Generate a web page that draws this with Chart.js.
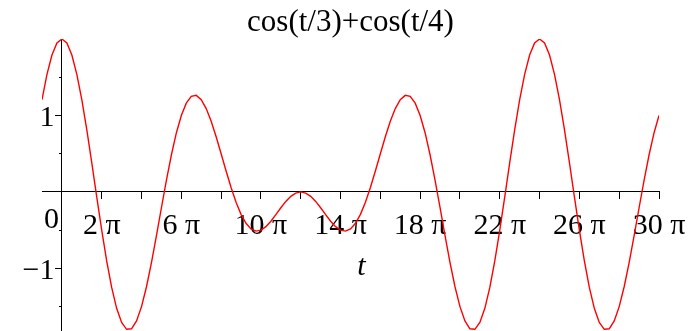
<!DOCTYPE html>
<html>
<head>
<meta charset="utf-8">
<title>cos(t/3)+cos(t/4)</title>
<script src="https://cdn.jsdelivr.net/npm/chart.js@4.4.1/dist/chart.umd.min.js"></script>
<style>
  html, body { margin: 0; padding: 0; background: #fff; }
  canvas { display: block; }
</style>
</head>
<body>
<canvas id="plot" width="691" height="331"></canvas>
<script>
// t runs from -pi to 30 pi, sampled every quarter pi (t given in units of pi)
const tStartPi = -1;
const tStepPi = 0.25;
const values = [
  1.207, 1.538, 1.79, 1.947,
  2, 1.947, 1.79, 1.538, 1.207, 0.815, 0.383, -0.064,
  -0.5, -0.902, -1.249, -1.522, -1.707, -1.797, -1.79, -1.688,
  -1.5, -1.24, -0.924, -0.572, -0.207, 0.151, 0.483, 0.771,
  1, 1.161, 1.249, 1.263, 1.207, 1.09, 0.924, 0.722,
  0.5, 0.274, 0.058, -0.135, -0.293, -0.41, -0.483, -0.512,
  -0.5, -0.454, -0.383, -0.297, -0.207, -0.124, -0.058, -0.015,
  0, -0.015, -0.058, -0.124, -0.207, -0.297, -0.383, -0.454,
  -0.5, -0.512, -0.483, -0.41, -0.293, -0.135, 0.058, 0.274,
  0.5, 0.722, 0.924, 1.09, 1.207, 1.263, 1.249, 1.161,
  1, 0.771, 0.483, 0.151, -0.207, -0.572, -0.924, -1.24,
  -1.5, -1.688, -1.79, -1.797, -1.707, -1.522, -1.249, -0.902,
  -0.5, -0.064, 0.383, 0.815, 1.207, 1.538, 1.79, 1.947,
  2, 1.947, 1.79, 1.538, 1.207, 0.815, 0.383, -0.064,
  -0.5, -0.902, -1.249, -1.522, -1.707, -1.797, -1.79, -1.688,
  -1.5, -1.24, -0.924, -0.572, -0.207, 0.151, 0.483, 0.771,
  1
];

// axis ticks (x in units of pi)
const xTicks = [0, 2, 4, 6, 8, 10, 12, 14, 16, 18, 20, 22, 24, 26, 28, 30];
const xLabelled = [2, 6, 10, 14, 18, 22, 26, 30];
const yTicks = [-1, 1];
const yTickLabels = ["\u22121 ", "1 "];
const yMinorTicks = [-1.5, -0.5, 0.5, 1.5];

const serif = '"Liberation Serif", "Times New Roman", serif';

const points = values.map((v, i) => ({ x: tStartPi + i * tStepPi, y: v }));

// extra axis text: the lone "0" and the variable name
const axisText = {
  id: "axisText",
  afterDraw(chart) {
    const ctx = chart.ctx;
    const xs = chart.scales.x, ys = chart.scales.y;
    const ax = xs.getPixelForValue(0), ay = ys.getPixelForValue(0);
    ctx.save();
    ctx.fillStyle = "#000";
    ctx.textAlign = "center";
    ctx.textBaseline = "middle";
    ctx.font = "30px " + serif;
    ctx.fillText("0", ax - 10.5, ay + 28);
    ctx.font = "italic 30px " + serif;
    ctx.fillText("t", xs.getPixelForValue(15) + 1, ay + 75);
    ctx.restore();
  }
};

new Chart(document.getElementById("plot"), {
  type: "line",
  data: {
    datasets: [{
      data: points,
      borderColor: "#ff0000",
      borderWidth: 1.4,
      pointRadius: 0,
      tension: 0,
      fill: false
    }]
  },
  options: {
    responsive: false,
    animation: false,
    layout: { padding: { left: 42, right: 32, top: 0, bottom: 0 } },
    plugins: {
      legend: { display: false },
      tooltip: { enabled: false },
      title: {
        display: true,
        text: "cos(t/3)+cos(t/4)",
        color: "#000",
        font: { family: serif, size: 31, weight: "normal", lineHeight: 1 },
        padding: { top: 7, bottom: 1 }
      }
    },
    scales: {
      x: {
        type: "linear",
        position: { y: 0 },
        min: -1,
        max: 30,
        afterBuildTicks: (s) => { s.ticks = xTicks.map(v => ({ value: v })); },
        ticks: {
          color: "#000",
          padding: 0,
          maxRotation: 0,
          autoSkip: false,
          font: { family: serif, size: 30, lineHeight: 1.8 },
          callback: (v) => xLabelled.includes(v) ? v + " \u03c0" : ""
        },
        grid: { drawOnChartArea: false, color: "#000", tickLength: 7 },
        border: { color: "#000", width: 1 }
      },
      y: {
        type: "linear",
        position: { x: 0 },
        min: -1.817,
        max: 2,
        afterBuildTicks: (s) => { s.ticks = yTicks.map(v => ({ value: v })); },
        ticks: {
          color: "#000",
          padding: 0,
          labelOffset: 3,
          autoSkip: false,
          font: { family: serif, size: 30, lineHeight: 0.01 },
          callback: (v) => yTickLabels[yTicks.indexOf(v)]
        },
        grid: { drawOnChartArea: false, color: "#000", tickLength: 6 },
        border: { color: "#000", width: 1 }
      },
      yMinor: {
        type: "linear",
        position: { x: 0 },
        min: -1.817,
        max: 2,
        afterBuildTicks: (s) => { s.ticks = yMinorTicks.map(v => ({ value: v })); },
        ticks: { display: false },
        grid: { drawOnChartArea: false, color: "#000", tickLength: 3 },
        border: { display: false }
      }
    }
  },
  plugins: [axisText]
});
</script>
</body>
</html>
